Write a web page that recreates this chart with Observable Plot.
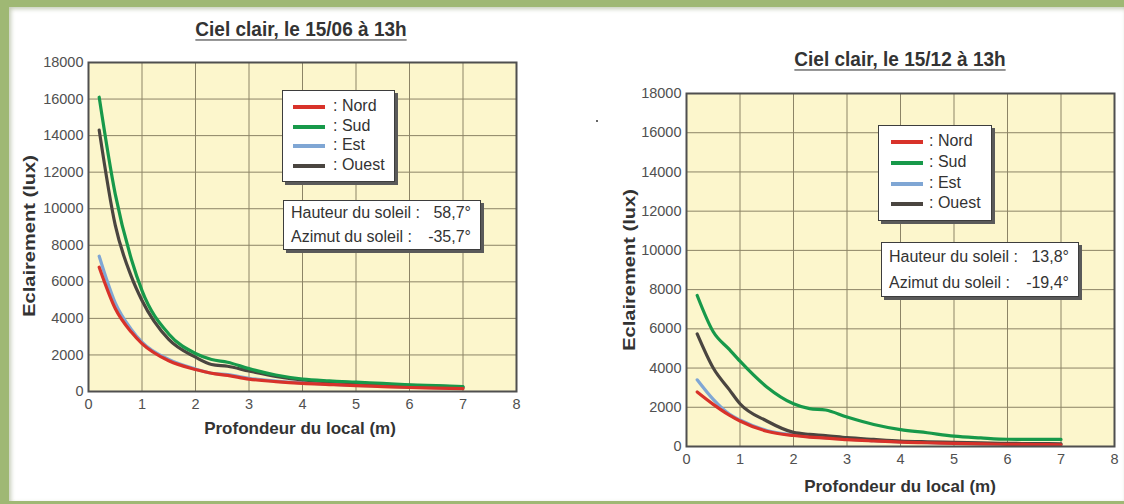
<!DOCTYPE html>
<html>
<head>
<meta charset="utf-8">
<script src="https://cdn.jsdelivr.net/npm/d3@7"></script>
<script src="https://cdn.jsdelivr.net/npm/@observablehq/plot@0.6"></script>
<style>
  body { margin: 0; }
  #page { position: relative; width: 1124px; height: 504px; background: #9fb874; overflow: hidden; font-family: "Liberation Sans", Arial, sans-serif; }
  #inner { position: absolute; left: 9px; top: 7px; width: 1115px; height: 494px; background: #fff; box-shadow: inset 2px 2px 4px rgba(90,110,50,0.35); }
  .chart { position: absolute; }
  .title { position: absolute; font-weight: bold; font-size: 19px; color: #333; text-decoration: underline; text-underline-offset: 3px; white-space: nowrap; transform: translateX(-50%) scaleY(1.05); }
  .xtitle { position: absolute; font-weight: bold; font-size: 17px; color: #333; white-space: nowrap; transform: translateX(-50%); }
  .ytitle { position: absolute; font-weight: bold; font-size: 17px; color: #333; white-space: nowrap; transform: translate(-50%, -50%) rotate(-90deg) scaleX(1.18); }
  .box { position: absolute; background: #fff; border: 1.5px solid #3d3d3d; box-shadow: 3px 3px 0 #5a5a5a; font-size: 16px; color: #333; }
  .row { position: absolute; white-space: nowrap; }
  .sw { position: absolute; height: 4px; }
</style>
</head>
<body>
<div id="page"><div id="inner"></div></div>
<script>
// ---- data ----
const depth = [0.2, 0.5, 0.8, 1, 1.5, 2, 2.3, 2.6, 3, 3.5, 4, 4.5, 5, 5.5, 6, 6.5, 7];
const seriesNames = ["Nord", "Sud", "Est", "Ouest"];
const seriesColors = ["#d8322a", "#17994a", "#7fa6d4", "#4a4540"];
const xTicks = [0, 1, 2, 3, 4, 5, 6, 7, 8];
const yTicks = [0, 2000, 4000, 6000, 8000, 10000, 12000, 14000, 16000, 18000];

// 15/06
const juneNord  = [6800, 4540, 3250, 2620, 1680, 1200, 1000, 880, 680, 540, 440, 380, 320, 270, 220, 190, 160];
const juneSud   = [16100, 10800, 7250, 5520, 3150, 2080, 1750, 1600, 1250, 900, 680, 580, 510, 440, 370, 320, 270];
const juneEst   = [7400, 4850, 3400, 2700, 1750, 1230, 1000, 920, 720, 570, 470, 400, 340, 290, 240, 210, 180];
const juneOuest = [14300, 9100, 6300, 4980, 2850, 1880, 1480, 1380, 1120, 830, 630, 540, 470, 400, 330, 290, 240];

// 15/12
const decNord  = [2780, 2150, 1600, 1300, 780, 560, 480, 430, 350, 280, 220, 190, 160, 130, 110, 100, 90];
const decSud   = [7700, 5850, 4950, 4350, 3040, 2180, 1930, 1860, 1500, 1120, 860, 700, 530, 440, 370, 360, 360];
const decEst   = [3400, 2400, 1650, 1350, 820, 590, 500, 450, 370, 300, 240, 200, 170, 150, 130, 110, 100];
const decOuest = [5740, 4000, 2900, 2180, 1300, 720, 620, 560, 450, 360, 280, 240, 210, 180, 160, 150, 140];

const juneTitle = "Ciel clair, le 15/06 à 13h";
const decTitle = "Ciel clair, le 15/12 à 13h";
const xLabel = "Profondeur du local (m)";
const yLabel = "Eclairement (lux)";
const juneSun = [["Hauteur du soleil :", "58,7°"], ["Azimut du soleil :", "-35,7°"]];
const decSun = [["Hauteur du soleil :", "13,8°"], ["Azimut du soleil :", "-19,4°"]];

function rows(values) {
  const out = [];
  values.forEach((vals, si) => vals.forEach((v, i) => out.push({depth: depth[i], lux: v, serie: seriesNames[si]})));
  return out;
}

function chart(values, layout) {
  const data = rows(values);
  const drawOrder = ["Est", "Ouest", "Sud", "Nord"];
  return Plot.plot({
    width: layout.width, height: layout.height,
    marginLeft: layout.ml, marginRight: layout.mr, marginTop: layout.mt, marginBottom: layout.mb,
    x: {domain: [0, 8], label: null},
    y: {domain: [0, 18000], label: null},
    color: {domain: seriesNames, range: seriesColors},
    style: {fontFamily: '"Liberation Sans", Arial, sans-serif', fontSize: "14.5px", color: "#505050", background: "transparent", overflow: "visible"},
    marks: [
      Plot.frame({fill: "#fcf6cc", stroke: null}),
      Plot.gridX(xTicks, {stroke: "#8c8466", strokeOpacity: 1, strokeWidth: 1}),
      Plot.gridY(yTicks, {stroke: "#8c8466", strokeOpacity: 1, strokeWidth: 1}),
      ...drawOrder.map(name => Plot.lineY(data.filter(d => d.serie === name), {
        x: "depth", y: "lux", stroke: "serie", strokeWidth: 3.2, curve: "monotone-x"
      })),
      Plot.frame({stroke: "#4f4f4f", strokeWidth: 2}),
      Plot.axisX(xTicks, {tickSize: 0, tickPadding: 7, tickFormat: d3.format("d")}),
      Plot.axisY(yTicks, {tickSize: 0, tickPadding: 5, tickFormat: d3.format("d")})
    ]
  });
}

const page = document.getElementById("page");
function place(el, x, y) { el.style.left = x + "px"; el.style.top = y + "px"; page.appendChild(el); return el; }
function div(cls, text) { const d = document.createElement("div"); d.className = cls; if (text != null) d.textContent = text; return d; }

function legend(x, y, w, h, rowY, swX, swW, txX) {
  const b = div("box"); b.style.width = w + "px"; b.style.height = h + "px";
  seriesNames.forEach((n, i) => {
    const s = div("sw"); s.style.background = seriesColors[i];
    s.style.left = swX + "px"; s.style.top = (rowY[i] - 2) + "px"; s.style.width = swW + "px";
    b.appendChild(s);
    const t = div("row", ": " + n); t.style.left = txX + "px"; t.style.top = (rowY[i] - 10) + "px";
    b.appendChild(t);
  });
  place(b, x, y);
}
function sunBox(x, y, w, h, lines, rowY, valRight) {
  const b = div("box"); b.style.width = w + "px"; b.style.height = h + "px";
  lines.forEach((l, i) => {
    const a = div("row", l[0]); a.style.left = "7px"; a.style.top = (rowY[i] - 10) + "px"; b.appendChild(a);
    const v = div("row", l[1]); v.style.right = valRight + "px"; v.style.top = (rowY[i] - 10) + "px"; b.appendChild(v);
  });
  place(b, x, y);
}

// Left chart: x 0->8 at 88->516, y 18000->0 at 62->391
const c1 = chart([juneNord, juneSud, juneEst, juneOuest], {width: 510, height: 402, ml: 68, mr: 14, mt: 18, mb: 55});
c1.classList.add("chart"); place(c1, 20, 44);
// Right chart: x 0->8 at 686->1114, y 18000->0 at 93->446
const c2 = chart([decNord, decSud, decEst, decOuest], {width: 502, height: 428, ml: 66, mr: 8, mt: 18, mb: 57});
c2.classList.add("chart"); place(c2, 620, 75);

place(div("title", juneTitle), 301, 19);
place(div("title", decTitle), 900, 49);
place(div("xtitle", xLabel), 300, 419);
place(div("xtitle", xLabel), 900, 477);
place(div("ytitle", yLabel), 30, 236);
place(div("ytitle", yLabel), 630, 270);

legend(282, 90, 111, 90, [16, 36, 55, 75], 10, 32, 50);
legend(878, 125, 112, 94, [16, 37, 58, 78], 12, 32, 50);
sunBox(283, 200, 196, 48, juneSun, [13, 37], 9);
sunBox(881, 242, 196, 53, decSun, [15, 41], 9);

// small stray dot
const dot = div("row"); dot.style.width = "2px"; dot.style.height = "2px"; dot.style.background = "#666";
place(dot, 596, 120);
</script>
</body>
</html>
